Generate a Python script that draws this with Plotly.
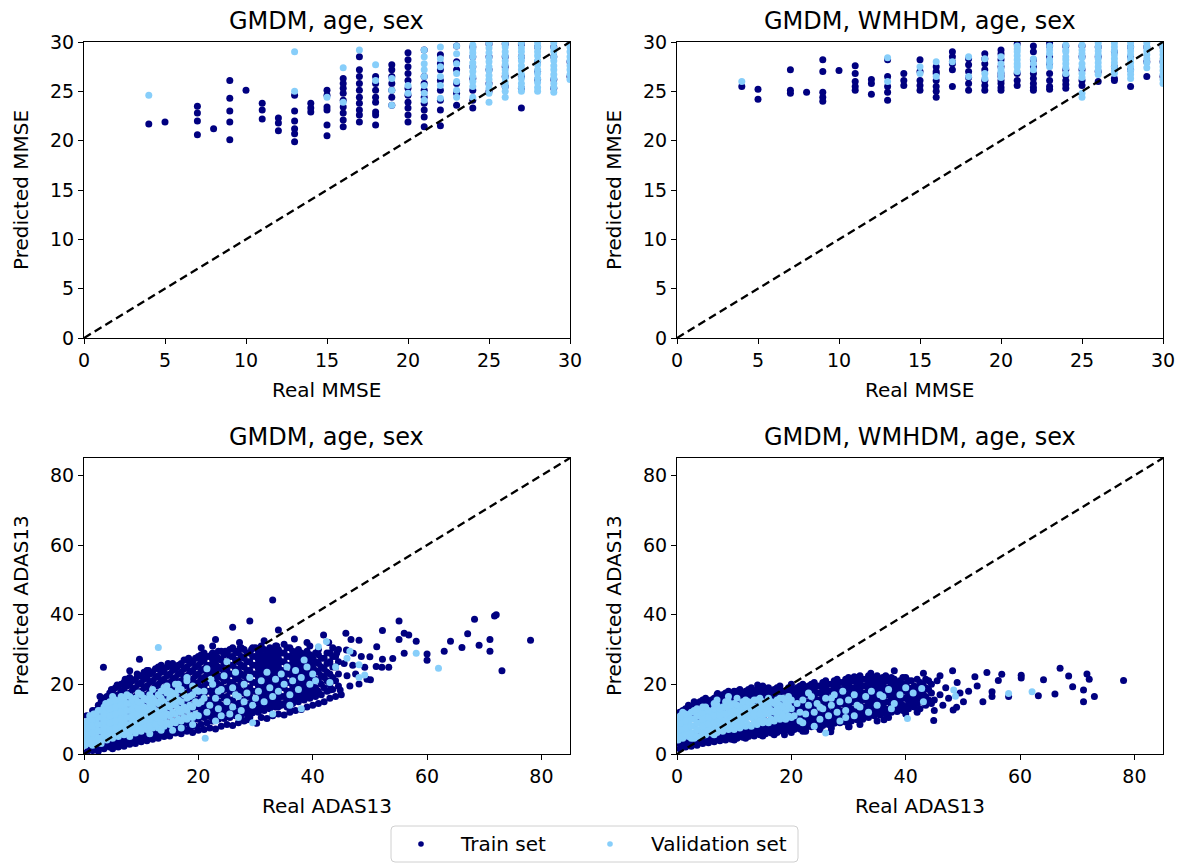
import plotly.graph_objects as go

# The page body adds an 8px margin, so the figure is drawn 8px in and 8px smaller.
OFF = 8
SCREEN_W, SCREEN_H = 1185, 863
W, H = SCREEN_W - OFF, SCREEN_H - OFF
TRAIN_COLOR = "#000080"
VAL_COLOR = "#87cefa"
FONT = "DejaVu Sans"

titles = ["GMDM, age, sex", "GMDM, WMHDM, age, sex", "GMDM, age, sex", "GMDM, WMHDM, age, sex"]
x_labels = ["Real MMSE", "Real MMSE", "Real ADAS13", "Real ADAS13"]
y_labels = ["Predicted MMSE", "Predicted MMSE", "Predicted ADAS13", "Predicted ADAS13"]
mmse_ticks = [0, 5, 10, 15, 20, 25, 30]
adas_ticks = [0, 20, 40, 60, 80]
mmse_range = [0, 30]
adas_range = [0, 85]
legend_names = ["Train set", "Validation set"]

# ---- Top-left: MMSE, GMDM + age + sex (real MMSE -> predicted values) ----
tl_train_cols = {
    4: [21.7], 5: [21.9], 7: [23.5, 22.8, 22.0, 20.6], 8: [21.2],
    9: [26.1, 24.3, 23.0, 21.9, 20.1], 10: [25.1], 11: [23.8, 23.1, 22.2],
    12: [22.3, 21.8, 21.0], 13: [24.6, 23.0, 22.0, 21.2, 20.7, 19.9],
    14: [23.8, 23.3, 22.9], 15: [25.1, 24.6, 23.4, 23.1, 21.6, 20.5],
    16: [26.3, 25.8, 25.3, 24.8, 24.1, 23.4, 22.8, 22.1, 21.4],
    17: [28.5, 27.2, 26.5, 25.8, 25.1, 24.4, 23.8, 23.1, 22.6, 21.9],
    18: [26.5, 25.8, 25.1, 24.4, 23.9, 22.9, 22.6, 21.6],
    19: [27.7, 27.2, 26.5, 25.8, 25.1, 24.4, 23.6],
    20: [28.9, 28.2, 27.5, 26.8, 26.1, 25.3, 24.6, 23.9, 23.3, 22.6, 21.9],
    21: [29.2, 26.5, 25.8, 25.1, 24.4, 23.8, 23.1, 22.4, 21.4],
    22: [28.7, 27.8, 27.2, 26.1, 25.1, 24.1, 23.1, 21.5],
    23: [29.6, 28.0, 27.2, 25.8, 24.8, 23.6],
    24: [29.5, 28.5, 27.5, 26.3, 25.1, 24.1, 23.3],
    25: [29.8, 28.5, 27.2, 25.8, 25.0],
    26: [29.8, 28.5, 27.5, 26.5, 25.5],
    27: [29.8, 28.5, 26.5, 25.3, 23.3],
    28: [29.5, 28.0, 27.0, 26.2],
    29: [29.5, 28.5, 26.2, 25.3],
    30: [29.8, 28.0, 26.5],
}
tl_val_cols = {
    4: [24.6], 13: [29.0, 25.0], 15: [24.4], 16: [27.4, 23.9], 17: [29.2],
    18: [27.7, 26.1], 19: [26.3, 25.1, 23.6], 20: [25.6, 24.8],
    21: [29.2, 28.5, 27.8, 27.2, 26.5, 25.6, 24.8, 24.1],
    22: [29.5, 28.3, 27.5, 26.5, 25.6, 24.3],
    23: [29.6, 28.8, 27.8, 26.8, 26.0, 25.1, 24.4],
    24: [29.7, 29.3, 28.9, 28.5, 27.9, 27.5, 27.0, 26.5, 26.0, 25.5, 24.4],
    25: [29.9, 29.4, 28.9, 28.4, 28.0, 27.5, 27.1, 26.6, 26.2, 25.7, 25.3, 24.8, 23.9],
    26: [29.9, 29.5, 29.0, 28.6, 28.1, 27.7, 27.2, 26.8, 26.4, 25.9, 25.5, 25.0, 24.4],
    27: [29.9, 29.4, 29.0, 28.5, 28.1, 27.6, 27.2, 26.7, 26.3, 25.8, 25.4, 25.0],
    28: [29.9, 29.5, 29.0, 28.6, 28.1, 27.7, 27.2, 26.8, 26.3, 25.9, 25.4, 25.0],
    29: [29.9, 29.4, 29.0, 28.5, 28.1, 27.6, 27.2, 26.7, 26.3, 25.8, 25.4, 24.9],
    30: [29.9, 29.5, 29.0, 28.5, 28.1, 27.6, 27.2, 26.7, 26.2],
}

# ---- Top-right: MMSE, GMDM + WMHDM + age + sex ----
tr_train_cols = {
    4: [25.5], 5: [25.2, 24.2], 7: [27.2, 25.1, 24.8], 8: [24.9],
    9: [28.2, 27.0, 24.9, 24.4, 24.0], 10: [27.1], 11: [27.6, 26.8, 26.0, 25.5, 25.1],
    12: [26.2, 25.8, 24.7], 13: [28.2, 26.5, 25.5, 24.9, 24.1], 14: [26.8, 26.1, 25.6],
    15: [28.2, 27.0, 26.1, 25.6, 25.1], 16: [27.5, 27.0, 26.8, 26.1, 25.5, 25.0, 24.4],
    17: [29.0, 28.5, 28.0, 27.8, 27.2, 25.5], 18: [28.3, 27.7, 27.0, 26.4, 25.8, 25.1],
    19: [28.8, 28.3, 27.8, 27.2, 26.1, 25.6, 25.1],
    20: [29.2, 28.8, 28.2, 27.5, 26.8, 26.5, 26.1, 25.8, 25.4, 25.1],
    21: [29.8, 26.8, 26.1, 25.6],
    22: [29.6, 29.0, 28.2, 27.5, 26.8, 26.3, 25.8, 25.4, 25.1],
    23: [29.9, 29.6, 28.5, 27.8, 26.8, 26.1, 25.5, 25.2],
    24: [29.6, 27.2, 26.6, 26.1, 25.7, 25.3],
    25: [29.6, 28.5, 27.2, 26.1, 25.6],
    26: [29.5, 28.5, 27.0, 26.0],
    27: [29.0, 27.5, 26.3, 26.1],
    28: [29.5, 28.5, 27.2, 25.5],
    29: [29.5, 28.0, 26.5],
    30: [29.5, 28.0, 26.5],
}
tr_val_cols = {
    4: [26.0], 13: [28.4, 26.0], 15: [27.5, 26.8], 16: [28.0, 26.5], 17: [28.0],
    18: [28.5, 26.5], 19: [28.3, 26.8, 26.3], 20: [28.5, 27.8, 27.3, 27.0, 26.8, 26.4],
    21: [29.6, 29.3, 29.0, 28.6, 28.2, 27.8, 27.5, 27.0],
    22: [28.3, 27.8, 27.2],
    23: [29.6, 29.2, 28.8, 28.2, 27.9, 27.5],
    24: [29.7, 29.2, 29.0, 28.5, 28.2, 27.8, 27.4, 26.8],
    25: [29.7, 29.2, 28.8, 28.4, 27.8, 27.4, 26.8, 26.4, 24.8, 24.4],
    26: [29.9, 29.5, 29.1, 28.7, 28.3, 27.9, 27.5, 27.1, 26.7],
    27: [29.9, 29.5, 29.1, 28.7, 28.3, 27.9, 27.5, 27.1, 26.8],
    28: [29.9, 29.5, 29.1, 28.7, 28.3, 27.9, 27.5, 27.1, 26.7, 26.3],
    29: [29.9, 29.5, 29.1, 28.7, 28.3, 27.9, 27.4],
    30: [29.9, 29.5, 29.1, 28.7, 28.3, 27.9, 27.5, 27.1, 26.7, 26.2, 25.8],
}

# ---- Bottom-left: ADAS13, GMDM + age + sex ----
bl_train_cols = {
    0.5: [0.5, 2.5, 4.5, 8.5, 11], 1.5: [1, 3, 6, 9.5, 12.5], 2.5: [0.8, 2.2, 5, 8, 11, 14],
    3.5: [1.5, 3.5, 7, 10.5, 13.5, 16], 4.5: [2, 4, 9, 12.5, 15, 17.5],
    5.5: [2.5, 4.5, 8, 11, 14, 16.5, 19], 6.5: [3, 5, 10, 13, 15.5, 18, 20],
    7.5: [3.2, 5.5, 9, 12, 14.5, 17, 19.5, 21.5], 8.5: [3.5, 6, 11, 13.5, 16, 18.5, 21],
    9.5: [4, 6.5, 10, 12.5, 15, 17.5, 20, 22.5], 10.5: [4.5, 7, 11.5, 14, 16.5, 19, 21.5, 23.5],
    11.5: [5, 7.5, 13, 15.5, 18, 20.5, 23], 12.5: [5.2, 8, 12, 14.5, 17, 19.5, 22, 24.5],
    13.5: [5.8, 8.5, 13.5, 16, 18.5, 21, 23.5, 25.5], 14.5: [6, 9, 12.5, 15, 17.5, 20, 22.5, 25],
    15.5: [6.5, 9.5, 14, 16.5, 19, 21.5, 24, 26], 16.5: [6.8, 10, 13, 15.5, 18, 20.5, 23, 25.5],
    17.5: [7.2, 10.5, 14.5, 17, 19.5, 22, 24.5, 27], 18.5: [7.5, 11, 13.5, 16, 18.5, 21, 23.5, 26],
    19.5: [8, 11.5, 15, 17.5, 20, 22.5, 25, 27.5], 20.5: [8.5, 12, 14, 16.5, 19, 21.5, 24, 26.5, 28.5],
    21.5: [9, 11, 13.5, 15.5, 18, 20.5, 23, 25.5, 28], 22.5: [9.5, 12, 14.5, 17, 19.5, 22, 24.5, 27, 29],
    23.5: [10, 12.5, 15, 17.5, 20, 22.5, 25, 27.5, 29.5], 24.5: [10.2, 13, 16, 18.5, 21, 23.5, 26, 28.5],
    25.5: [10.5, 13.5, 15.5, 18, 20.5, 23, 25.5, 28, 30], 26.5: [11, 14, 17, 19.5, 22, 24.5, 27, 29.5],
    27.5: [11.2, 13, 15.5, 18, 20.5, 23, 25.5, 28, 30.5], 28.5: [11.5, 14, 16.5, 19, 21.5, 24, 26.5, 29],
    29.5: [11.8, 13.5, 15.5, 18, 20.5, 23, 25.5, 28, 30.5], 30.5: [12, 14.5, 17, 19.5, 22, 24.5, 27, 29.5],
    31.5: [12.5, 15, 17.5, 20, 22.5, 25, 27.5, 30], 32.5: [13, 15.5, 18, 20.5, 23, 25.5, 28, 30.5],
    33.5: [13.5, 16, 18.5, 21, 23.5, 26, 28.5, 31], 34.5: [14, 16.5, 19, 21.5, 24, 26.5, 29],
    35.5: [13.5, 15.5, 18, 20.5, 23, 25.5, 28, 30.5], 36.5: [14.5, 17, 19.5, 22, 24.5, 27, 29.5],
    37.5: [15, 17.5, 20, 22.5, 25, 27.5, 30], 38.5: [15.5, 18, 20.5, 23, 25.5, 28],
    39.5: [16, 18.5, 21, 23.5, 26, 28.5, 31], 40.5: [16.5, 19, 21.5, 24, 26.5, 29],
    41.5: [17, 20, 22.5, 25, 27.5], 42.5: [18, 21, 23.5, 26, 29], 43.5: [18.5, 22, 25, 28],
    44.5: [19.5, 23, 26.5, 30],
    1: [1.8, 4, 7.5, 10.5], 2: [2, 4, 6.5, 12.5], 3: [2.5, 5.5, 9, 12, 15], 4: [3, 6.5, 10.5, 14, 16.5],
    5: [3.5, 6, 9.5, 13, 15.5, 18], 6: [4, 6.5, 11.5, 14.5, 17, 19.5], 7: [4.5, 7, 10.5, 13.5, 16, 18.5, 20.5],
    8: [4.8, 7.5, 12.5, 15, 17.5, 20, 22], 9: [5.2, 8, 11.5, 14, 16.5, 19, 21.5],
    10: [5.5, 8.5, 13, 15.5, 18, 20.5, 22.5], 11: [6, 9, 12, 14.5, 17, 19.5, 22, 24],
    12: [6.3, 9.5, 13.5, 16, 18.5, 21, 23.5], 13: [6.8, 10, 12.5, 15, 17.5, 20, 22.5, 24.5],
    14: [7, 10.5, 14, 16.5, 19, 21.5, 24], 15: [7.5, 11, 13, 15.5, 18, 20.5, 23, 25.5],
    16: [8, 11.5, 14.5, 17, 19.5, 22, 24.5], 17: [8.5, 12, 13.5, 16, 18.5, 21, 23.5, 26],
    18: [9, 12.5, 15, 17.5, 20, 22.5, 25, 27], 19: [9.5, 13, 14, 16.5, 19, 21.5, 24, 26.5],
    20: [10, 13.5, 15.5, 18, 20.5, 23, 25.5, 27.5], 21: [10.5, 12.5, 14.5, 17, 19.5, 22, 24.5, 27, 29],
    22: [10.8, 13, 15.5, 18, 20.5, 23, 25.5, 28], 23: [11, 13.5, 16, 18.5, 21, 23.5, 26, 28.5],
    24: [11.5, 14, 17, 19.5, 22, 24.5, 27, 29.5], 25: [12, 14.5, 16.5, 19, 21.5, 24, 26.5, 29],
    26: [12.5, 15.5, 18, 20.5, 23, 25.5, 28, 30.5], 27: [12.2, 14.5, 17, 19, 21.5, 24, 26.5, 29],
    28: [13, 15, 17.5, 20, 22.5, 25, 27.5, 30], 29: [12.8, 14.5, 16.5, 19, 21.5, 24, 26.5, 29],
    30: [13.2, 15.5, 18, 20.5, 23, 25.5, 28, 30.5], 31: [13.5, 16, 18.5, 21, 23.5, 26, 28.5, 31],
    32: [14, 16.5, 19, 21.5, 24, 26.5, 29], 33: [14.5, 17, 19.5, 22, 24.5, 27, 29.5],
    34: [15, 17.5, 20, 22.5, 25, 27.5, 30], 35: [14.5, 16.5, 19, 21.5, 24, 26.5, 29, 31.5],
    36: [15.5, 18, 20.5, 23, 25.5, 28, 30.5], 37: [16, 18.5, 21, 23.5, 26, 28.5],
    38: [16.5, 19, 21.5, 24, 26.5, 29], 39: [17, 19.5, 22, 24.5, 27, 29.5], 40: [17.5, 20, 22.5, 25, 27.5],
    41: [18, 21, 23.5, 26, 28.5], 42: [19, 22, 24.5, 27.5], 43: [20, 23, 26.5, 29], 44: [21, 25, 28],
}
bl_train_extra = [
    (3.4, 24.9), (2.8, 16.5), (4.8, 18.5), (5.8, 19.8), (8, 23.9), (9.7, 27.2), (9.3, 23), (7.2, 21.5),
    (11.3, 24), (13, 25), (14.7, 26), (16.3, 25), (18.3, 27.5), (20, 28), (23, 32.9), (20.5, 30.5),
    (22.5, 31), (22.3, 28.5), (24.7, 29.5), (27.3, 30.5), (29.3, 30), (26, 36.4), (29, 38.2), (27.2, 32),
    (30.2, 8.8), (28, 9.5), (33, 44.2), (34, 35.6), (31.5, 32.5), (33.7, 31), (34, 13.6), (36, 13.1),
    (36.8, 33), (39, 32), (41, 30), (41.9, 34.2), (43.5, 30.5), (42.8, 32), (44.8, 18.4), (43, 18.4),
    (39.8, 19.2), (44.2, 29),
    # lower edge of the cloud
    (5, 1.5), (6, 2), (7, 2.2), (8, 2.8), (9, 3), (10, 3.5), (11, 3.8), (12, 4.2), (13, 4.5), (14, 5),
    (15, 5.2), (16, 6), (17, 5.8), (18, 6.5), (19, 6.2), (20, 6.8), (21, 7), (22, 7.5), (23, 7.2),
    (24, 8), (25, 8.5), (26, 8.2), (27, 9), (27.3, 10.8), (28.5, 9.8), (29, 10.5), (31, 10.5),
    (32, 10.2), (33, 11), (34, 11.5), (35, 11.2), (36, 12), (37, 12.5), (38, 12.8), (39, 13.5),
    (40, 14), (41, 14.5), (42, 15), (43, 16), (44, 16.5), (45, 17),
    (45.8, 34.7), (46.7, 32.9), (45.9, 29.9), (47.1, 28.9), (48.1, 32.7), (48.1, 20.1), (49.1, 24.9),
    (46, 22.5), (47, 25.5), (45.5, 26), (48.5, 28), (46.5, 19.5), (47.5, 23), (49.5, 21.5), (50, 27.9),
    (50.1, 21.3), (51.2, 30.8), (51.1, 25.1), (52.1, 24.9), (52.2, 27.2), (52.2, 35.5), (53.3, 24.9),
    (54, 27.4), (55.1, 38.2), (55.1, 32.9), (56, 34.7), (56.8, 34.2), (56, 28.9), (58.1, 32.4),
    (60, 28.7), (60, 26.9), (63, 29.5), (64.1, 32.4), (66.1, 30.6), (67.1, 34.5), (68.3, 38.7),
    (69.1, 31.2), (71, 32.9), (71, 29.5), (71.8, 39.6), (72.1, 40), (73.1, 23.9), (78.1, 32.7),
]
bl_val_cols = {
    0.2: [2.5, 4.5, 6.5, 8.5], 1.0: [3, 5, 7, 9, 11], 2.0: [3.5, 5.5, 7.5, 9.5, 11.5],
    3.0: [3, 4.5, 6.5, 8.5, 10.5, 12.5], 4.0: [4, 6, 8, 10, 12, 14], 5.0: [4.5, 6.5, 8.5, 10.5, 12.5, 14.5, 16.5],
    6.0: [5, 7, 9, 11, 13, 15], 7.0: [5.5, 7.5, 9.5, 11.5, 13.5, 15.5], 8.0: [5, 6.5, 8.5, 10.5, 12.5, 14.5, 16.5],
    9.0: [6, 8, 10, 12, 14, 16], 10.0: [6.5, 8.5, 10.5, 12.5, 14.5, 17], 11.0: [7, 9, 11, 13, 15.5],
    12.0: [7.5, 9.5, 11.5, 13.5, 16, 18.5], 13.0: [7.5, 10, 12, 14.5, 17], 14.0: [8, 10.5, 12.5, 15, 19],
    15.0: [8.5, 11, 13.5, 16, 18], 16.0: [9, 11.5, 14, 17, 20], 17.0: [9.5, 12, 15, 18.5],
    18.0: [10, 12.5, 16, 21], 19.0: [10.5, 13.5, 17, 19.5], 20.0: [11, 14.5, 18],
    0.6: [3.5, 5.5, 7.5, 9.5], 1.5: [2.5, 4, 6, 8, 10], 2.5: [4.5, 6.5, 8.5, 10.5, 12.5],
    3.5: [5.5, 7.5, 9.5, 11.5, 13.5], 4.5: [5, 7, 9, 11, 13, 15], 5.5: [5.5, 7.5, 9.5, 11.5, 13.5, 15.5],
    6.5: [6, 8, 10, 12, 14, 16.5], 7.5: [6.5, 8.5, 10.5, 12.5, 14.5, 17], 8.5: [7, 9, 11, 13, 15.5],
    9.5: [7, 9, 11, 13, 15, 17.5], 10.5: [7.5, 9.5, 11.5, 13.5, 16], 11.5: [8, 10, 12, 14.5, 17],
    12.5: [8.5, 10.5, 12.5, 15], 13.5: [9, 11, 13, 16, 18], 14.5: [9, 11.5, 14, 17.5],
    15.5: [9.5, 12, 15, 17.5], 16.5: [10, 13, 15.5, 18.5], 17.5: [10.5, 13.5, 17], 18.5: [11, 14, 16.5],
    19.5: [11.5, 15, 18.5],
}
bl_val_extra = [
    (3.8, 14.5), (1.7, 11.5), (13, 30.6), (11.5, 5.8), (13.5, 6.8), (14.5, 19.5), (16.5, 20), (18, 22),
    (21.2, 4.5), (20.5, 15), (21, 18), (21.5, 12), (22, 14), (22.5, 20), (23, 16), (23.5, 13), (24, 18.5),
    (24.5, 22.5), (25, 15), (25.5, 11.5), (26, 19), (26.5, 23.5), (27, 16.5), (27.5, 12.5), (28, 20),
    (28.5, 17.5), (29, 22), (29.5, 14), (21.5, 24.5), (25, 26.5), (23, 9.5), (27, 10.5), (29.5, 9),
    (22.2, 21.5), (24, 11), (26, 13.5), (28, 15), (30, 16), (21, 16), (23.5, 18), (26.5, 17),
    (17, 7.5), (19, 8.5), (15.5, 6.8),
    (30.5, 18), (31, 21), (31.5, 15), (32, 23.5), (32.5, 19), (33, 16.5), (33.5, 21.5), (34, 18), (34.5, 23),
    (35, 20), (35.5, 25), (36, 17), (36.5, 21), (37, 24), (37.5, 18.5), (38, 22), (38.5, 27), (39, 25),
    (39.5, 20), (40, 23), (41, 30.8), (42.4, 32.3), (40.5, 21), (43, 20.5), (44, 25), (36, 14), (38, 13),
    (33, 11.5), (48.1, 25.6), (49.1, 22.7), (48.1, 22), (58.1, 28.9), (62, 24.6), (46.5, 29.5), (46, 27.5),
]

# ---- Bottom-right: ADAS13, GMDM + WMHDM + age + sex ----
br_train_cols = {
    0.5: [1.5, 3, 10, 12], 1.5: [2, 3.5, 9.5, 11.5, 13], 2.5: [2.2, 4, 11, 13.5],
    3.5: [2.5, 4.2, 10.5, 12.5, 14.5], 4.5: [3, 4.5, 12, 14, 15.5], 5.5: [3.2, 5, 11.5, 13.5, 15],
    6.5: [3.5, 5.2, 12.5, 14.5, 16], 7.5: [3.8, 5.5, 13, 15, 16.5], 8.5: [4, 5.8, 12, 14, 16, 17.5],
    9.5: [4.2, 6, 13.5, 15.5, 17], 10.5: [4.5, 6.2, 13, 15, 16.8, 18], 11.5: [4.8, 6.5, 14, 16, 17.5],
    12.5: [5, 6.8, 13.5, 15.5, 17, 18.5], 13.5: [5.2, 7, 14.5, 16.5, 18], 14.5: [5.5, 7.2, 14, 16, 17.5, 19],
    15.5: [5.8, 7.5, 9.5, 15, 17, 18.5], 16.5: [6, 7.8, 10, 14.5, 16.5, 18],
    17.5: [6.2, 8, 10.5, 13, 15.5, 17.5, 19], 18.5: [6.5, 8.2, 11, 14, 16, 18],
    19.5: [6.8, 8.5, 10.5, 12.5, 15, 17, 19], 20.5: [7, 8.8, 11, 13, 15.5, 17.5],
    21.5: [7.2, 9, 11.5, 13.5, 16, 18, 19.5], 22.5: [7.5, 9.2, 11, 13, 15, 17, 19],
    23.5: [7.8, 9.5, 12, 14, 16.5, 18.5, 20], 24.5: [8, 9.8, 11.5, 13.5, 15.5, 17.5, 19.5],
    25.5: [8.2, 10, 12.5, 14.5, 16.5, 18.5, 20.5], 26.5: [8.5, 10.5, 12, 14, 16, 18, 20],
    27.5: [8.8, 10.8, 13, 15, 17, 19, 21], 28.5: [9, 11, 12.5, 14.5, 16.5, 18.5, 20.5],
    29.5: [9.2, 11.2, 13.5, 15.5, 17.5, 19.5, 21.5], 30.5: [9.5, 11.5, 13, 15, 17, 19, 21],
    31.5: [9.8, 12, 14, 16, 18, 20, 22], 32.5: [10, 12, 13.5, 15.5, 17.5, 19.5, 21.5],
    33.5: [10.5, 12.5, 14.5, 16.5, 18.5, 20.5, 22.5], 34.5: [11, 13, 15, 17, 19, 21],
    35.5: [11.2, 13.5, 15.5, 17.5, 19.5, 21.5], 36.5: [11.5, 13, 15, 17, 19, 21, 22.5],
    37.5: [12, 14, 16, 18, 20, 22], 38.5: [12.2, 14.5, 16.5, 18.5, 20.5], 39.5: [12.5, 14, 16, 18, 20, 22],
    40.5: [13, 15, 17, 19, 21], 41.5: [13.5, 15.5, 17.5, 19.5], 42.5: [13, 16, 18, 20.5],
    43.5: [14, 16.5, 19, 21.5], 44.5: [14.5, 17.5, 20],
    1: [2.5, 4, 10.5, 12.5], 2: [3, 4.5, 12, 14], 3: [3.2, 5, 11.5, 13.5, 15], 4: [3.5, 5.2, 13, 15],
    5: [4, 5.5, 12.5, 14.5, 16], 6: [4.2, 6, 13.5, 15.5], 7: [4.5, 6.2, 14, 16, 17], 8: [4.8, 6.5, 13.5, 15, 17],
    9: [5, 6.8, 14.5, 16.5, 18], 10: [5.2, 7, 14, 16, 17.5], 11: [5.5, 7.2, 15, 17, 18.5],
    12: [5.8, 7.5, 14.5, 16.5, 18], 13: [6, 7.8, 15.5, 17.5, 19], 14: [6.2, 8, 15, 16.8, 18.5],
    15: [6.5, 8.2, 10.5, 16, 18, 19.5], 16: [6.8, 8.5, 15.5, 17.5, 19], 17: [7, 8.8, 11.5, 14, 16.5, 18.5],
    18: [7.2, 9, 12.5, 15, 17, 19.5], 19: [7.5, 9.2, 11.5, 14, 16, 18], 20: [7.8, 9.5, 12, 14.5, 16.5, 18.5, 20],
    21: [8, 10, 12.5, 14.5, 17, 19], 22: [8.2, 10.2, 12.5, 14.5, 16.5, 18.5, 20], 23: [8.5, 10.5, 13, 15, 17.5, 19.5],
    24: [8.8, 10.8, 12.5, 14.5, 16.5, 18.5, 20.5], 25: [9, 11, 13.5, 15.5, 17.5, 19.5],
    26: [9.2, 11.2, 13, 15, 17, 19, 21], 27: [9.5, 11.5, 14, 16, 18, 20],
    28: [9.8, 12, 13.5, 15.5, 17.5, 19.5, 21.5], 29: [10, 12.2, 14.5, 16.5, 18.5, 20.5],
    30: [10.2, 12.5, 14, 16, 18, 20, 22], 31: [10.5, 12.8, 15, 17, 19, 21], 32: [10.8, 13, 15, 17, 19, 21, 22.5],
    33: [11, 13.5, 15.5, 17.5, 19.5, 21.5], 34: [11.5, 14, 16, 18, 20, 22], 35: [12, 14.5, 16.5, 18.5, 20.5, 22.5],
    36: [12.2, 14, 16, 18, 20, 22], 37: [12.5, 15, 17, 19, 21], 38: [13, 15.5, 17.5, 19.5, 21.5],
    39: [13.2, 15, 17, 19, 21], 40: [13.5, 16, 18, 20, 22], 41: [14, 16.5, 18.5, 21], 42: [14.5, 17, 19, 21.5],
    43: [15, 17.5, 20], 44: [15.5, 18.5, 21],
}
br_train_extra = [
    (7.1, 17.4), (10, 18), (14.1, 19.8), (15, 19), (18.8, 5.5), (22.5, 6.5), (25, 7.5), (26.9, 6.4),
    (30.1, 7.8), (31, 22.2), (33.9, 23.2), (36.2, 9.8), (38, 23.9), (43.1, 23.2), (44.9, 9.6),
    # lower edge of the band
    (10, 4), (12, 4.5), (15, 5.2), (17, 5.5), (20, 6.2), (22, 6.5), (25, 7), (27, 7.5), (30, 7.8),
    (32, 8.5), (35, 9.5), (37, 10.5), (40, 11.5), (42, 12), (45, 12.5),
    (45, 15.5), (45.5, 21), (46, 17), (46.5, 14), (47, 19), (47.5, 16), (48.2, 23.9), (48.3, 12.6),
    (48.9, 13.4), (49.5, 17.5), (50.1, 15), (46, 22.5), (49, 20.5),
    (52.1, 22.2), (53.5, 15), (54.2, 23.4), (55.1, 17.9), (55.1, 16.5), (56.8, 22.9), (56.2, 21.1), (58, 16.5),
    (60.2, 22.6), (60.2, 21.8), (63.2, 16.7), (64.1, 21.3), (66.1, 17.2), (67, 24.6), (68.5, 22.4),
    (69.2, 19.3), (71.1, 18.4), (71.1, 15), (71.7, 23), (72.1, 21.5), (73, 16.5), (78.1, 21.1), (51, 18),
    (52.5, 19.5),
]
br_val_cols = {
    0.2: [4, 6, 8, 10], 1.0: [4.5, 6.5, 8.5, 10.5], 2.0: [5, 7, 9, 11], 3.0: [4.5, 6, 8, 10, 12],
    4.0: [5, 7, 9, 11, 12.5], 5.0: [5.5, 7.5, 9.5, 11.5, 13], 6.0: [6, 8, 10, 12],
    7.0: [6.2, 8.5, 10.5, 12.5, 14], 8.0: [6.5, 8, 10, 12, 13.5], 9.0: [7, 9, 11, 13, 15],
    10.0: [7, 8.5, 10.5, 12.5, 14.5], 11.0: [7.5, 9.5, 11.5, 13.5], 12.0: [8, 10, 12, 14, 15.5],
    13.0: [8, 10.5, 12.5, 14.5], 14.0: [8.5, 10, 12, 13.5, 15.5], 15.0: [9, 11, 13, 15],
    16.0: [9, 11.5, 13.5, 16], 17.0: [9.5, 12, 14.5], 18.0: [10, 12, 14, 16], 19.0: [10, 12.5, 15],
    20.0: [10.5, 13, 15.5],
    0.6: [5, 7, 9, 11], 1.5: [5.5, 7.5, 9.5, 11.5], 2.5: [4.5, 6, 8, 10, 12], 3.5: [5, 7, 9, 11, 13],
    4.5: [6, 8, 10, 12, 13.5], 5.5: [6.5, 8.5, 10.5, 12.5], 6.5: [5.5, 7, 9, 11, 13, 14.5],
    7.5: [7, 9, 11, 13], 8.5: [7.5, 9.5, 11.5, 13.5, 15], 9.5: [7.5, 9.5, 12, 14],
    10.5: [8, 10, 12, 14, 16], 11.5: [8.5, 10.5, 12.5, 15], 12.5: [8.5, 11, 13, 15],
    13.5: [9, 11.5, 13.5, 15.5], 14.5: [9.5, 11.5, 14, 16], 15.5: [9.5, 12, 14.5], 16.5: [10, 12.5, 15],
    17.5: [10.5, 13, 15.5], 18.5: [11, 13.5, 16], 19.5: [11, 14, 16.5],
}
br_val_extra = [
    (20.5, 11), (21, 14.5), (21.5, 12), (22, 15.5), (22.5, 11.5), (23, 14), (23.5, 16.5), (24, 12),
    (24.5, 14.5), (25, 10), (25.5, 13), (26, 16), (26, 6), (26.5, 11), (27, 14), (27.5, 17), (28, 12),
    (28.5, 15), (29, 18), (29.5, 12.5), (30, 15.5), (31, 17), (32, 13.5), (33, 16.5), (34, 18), (35, 14),
    (36, 16.5), (37, 18.5), (38, 14.5), (39, 17), (40, 19), (40.3, 10.2), (41.3, 17.5), (42.8, 18.8),
    (43.1, 15), (48.4, 18.4), (48.7, 16.6), (58, 17.4), (62.1, 17.9), (22, 9), (24, 8), (28.5, 9.5), (31, 11),
    (7, 15.5), (9, 16.5), (0.5, 10.5), (1, 12), (3, 12.5), (5, 13.5), (25, 13.5), (27, 16), (29.5, 10.5),
    (31.5, 14), (33.5, 12), (35.5, 17), (37.5, 13), (21.5, 9.5), (23, 17.5),
]


def flatten_cols(cols, extra=()):
    xs, ys = [], []
    for x, yl in cols.items():
        for y in yl:
            xs.append(x)
            ys.append(y)
    for x, y in extra:
        xs.append(x)
        ys.append(y)
    return xs, ys


panels = [
    (flatten_cols(tl_train_cols), flatten_cols(tl_val_cols), mmse_range, mmse_ticks),
    (flatten_cols(tr_train_cols), flatten_cols(tr_val_cols), mmse_range, mmse_ticks),
    (flatten_cols(bl_train_cols, bl_train_extra), flatten_cols(bl_val_cols, bl_val_extra), adas_range, adas_ticks),
    (flatten_cols(br_train_cols, br_train_extra), flatten_cols(br_val_cols, br_val_extra), adas_range, adas_ticks),
]


def fx(px):
    return (px - OFF) / W


def fy(py):
    return 1 - (py - OFF) / H


# axes boxes in screen pixels: (left, right, top, bottom)
boxes = [(84, 570, 42, 338), (677, 1163, 42, 338), (84, 570, 458, 754), (677, 1163, 458, 754)]

fig = go.Figure()
layout = {}
annotations = []
shapes = []
MS = 7

for i, ((tx, ty), (vx, vy), rng, ticks) in enumerate(panels):
    n = "" if i == 0 else str(i + 1)
    xa, ya = "x" + n, "y" + n
    fig.add_trace(go.Scatter(x=tx, y=ty, mode="markers", xaxis=xa, yaxis=ya, showlegend=False,
                             marker=dict(color=TRAIN_COLOR, size=MS, line=dict(width=0))))
    fig.add_trace(go.Scatter(x=vx, y=vy, mode="markers", xaxis=xa, yaxis=ya, showlegend=False,
                             marker=dict(color=VAL_COLOR, size=MS, line=dict(width=0))))
    fig.add_trace(go.Scatter(x=rng, y=rng, mode="lines", xaxis=xa, yaxis=ya, showlegend=False,
                             line=dict(color="black", width=2.3, dash="8px,4.5px")))
    l, r, t, b = boxes[i]
    axcommon = dict(showline=True, mirror=True, linecolor="black", linewidth=1.2, ticks="outside",
                    ticklen=5, tickwidth=1.2, tickcolor="black", showgrid=False, zeroline=False,
                    tickfont=dict(family=FONT, size=19, color="black"), range=rng, tickvals=ticks,
                    automargin=False)
    layout["xaxis" + n] = dict(domain=[fx(l), fx(r)], anchor=ya, **axcommon)
    layout["yaxis" + n] = dict(domain=[fy(b), fy(t)], anchor=xa, **axcommon)
    cx = (l + r) / 2
    cy = (t + b) / 2
    annotations.append(dict(text=titles[i], x=fx(cx), y=fy(t - 21), xref="paper", yref="paper",
                            showarrow=False, xanchor="center", yanchor="middle",
                            font=dict(family=FONT, size=24, color="black")))
    annotations.append(dict(text=x_labels[i], x=fx(cx), y=fy(b + 52), xref="paper", yref="paper",
                            showarrow=False, xanchor="center", yanchor="middle",
                            font=dict(family=FONT, size=20, color="black")))
    annotations.append(dict(text=y_labels[i], x=fx(l - 63), y=fy(cy), xref="paper", yref="paper",
                            showarrow=False, xanchor="center", yanchor="middle", textangle=-90,
                            font=dict(family=FONT, size=20, color="black")))

# ---- legend (drawn as a framed box below the panels) ----
lx0, lx1, ly0, ly1, rad = 391, 798, 826, 862, 4
path = (f"M {fx(lx0 + rad)},{fy(ly0)} L {fx(lx1 - rad)},{fy(ly0)} "
        f"Q {fx(lx1)},{fy(ly0)} {fx(lx1)},{fy(ly0 + rad)} L {fx(lx1)},{fy(ly1 - rad)} "
        f"Q {fx(lx1)},{fy(ly1)} {fx(lx1 - rad)},{fy(ly1)} L {fx(lx0 + rad)},{fy(ly1)} "
        f"Q {fx(lx0)},{fy(ly1)} {fx(lx0)},{fy(ly1 - rad)} L {fx(lx0)},{fy(ly0 + rad)} "
        f"Q {fx(lx0)},{fy(ly0)} {fx(lx0 + rad)},{fy(ly0)} Z")
shapes.append(dict(type="path", path=path, xref="paper", yref="paper",
                   line=dict(color="#d0d0d0", width=1), fillcolor="white"))
legend_dot_x = [421, 610]
legend_text_x = [458, 649]
legend_y = 844
for name, color, dx, tx_ in zip(legend_names, [TRAIN_COLOR, VAL_COLOR], legend_dot_x, legend_text_x):
    dr = 2.8
    shapes.append(dict(type="circle", xref="paper", yref="paper",
                       x0=fx(dx - dr), x1=fx(dx + dr), y0=fy(legend_y + dr), y1=fy(legend_y - dr),
                       fillcolor=color, line=dict(width=0)))
    annotations.append(dict(text=name, x=fx(tx_), y=fy(legend_y), xref="paper", yref="paper",
                            showarrow=False, xanchor="left", yanchor="middle",
                            font=dict(family=FONT, size=20, color="black")))

fig.update_layout(
    width=W, height=H,
    margin=dict(l=0, r=0, t=0, b=0, pad=0),
    paper_bgcolor="white", plot_bgcolor="white",
    annotations=annotations,
    shapes=shapes,
    showlegend=False,
    font=dict(family=FONT),
    **layout,
)

fig.write_html("out.html")
